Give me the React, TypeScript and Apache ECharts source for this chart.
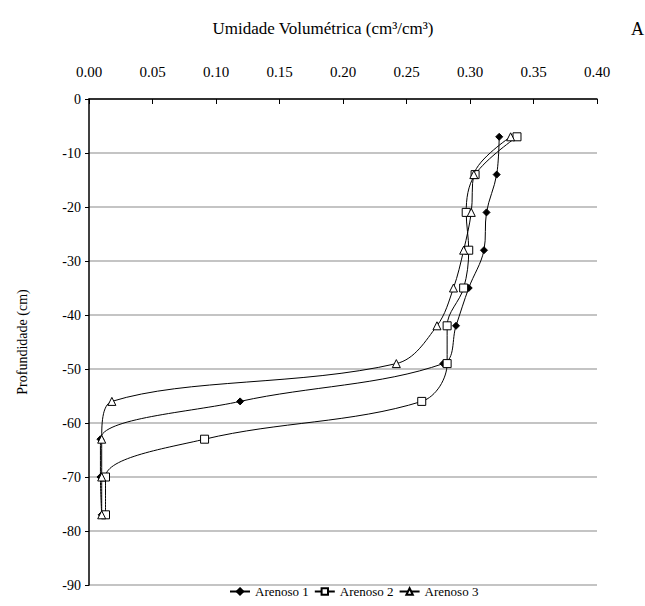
import React, { useEffect, useRef } from "react";
import * as echarts from "echarts";

const depths = [-7, -14, -21, -28, -35, -42, -49, -56, -63, -70, -77];
const arenoso1 = [0.323, 0.321, 0.313, 0.311, 0.299, 0.289, 0.279, 0.119, 0.009, 0.009, 0.010];
const arenoso2 = [0.337, 0.304, 0.297, 0.299, 0.295, 0.282, 0.282, 0.262, 0.091, 0.013, 0.013];
const arenoso3 = [0.332, 0.303, 0.301, 0.295, 0.287, 0.274, 0.242, 0.018, 0.010, 0.010, 0.010];
const seriesNames = ["Arenoso 1", "Arenoso 2", "Arenoso 3"];
const xTicks = { min: 0, max: 0.4, interval: 0.05 };
const yTicks = { min: -90, max: 0, interval: 10 };

const FONT = "'Liberation Serif', 'Times New Roman', serif";

function pairs(xs: number[]) {
  return xs.map((v, i) => [v, depths[i]]);
}

export default function App() {
  const ref = useRef<HTMLDivElement>(null);
  useEffect(() => {
    document.body.style.margin = "0";
    if (!ref.current) return;
    const chart = echarts.init(ref.current, undefined, { renderer: "svg" });
    const lineStyle = { color: "#000", width: 1 };
    chart.setOption({
      animation: false,
      backgroundColor: "#fff",
      textStyle: { fontFamily: FONT, color: "#000" },
      grid: { left: 89, right: 48, top: 99, bottom: 21, containLabel: false },
      graphic: [
        {
          type: "text",
          left: 631,
          top: 20,
          style: { text: "A", fontFamily: FONT, fontSize: 18, fill: "#000" },
        },
      ],
      legend: {
        bottom: 3,
        left: 224,
        itemGap: 5,
        itemWidth: 20,
        itemHeight: 8,
        textStyle: { fontFamily: FONT, fontSize: 13, color: "#000" },
        data: seriesNames,
      },
      xAxis: {
        type: "value",
        position: "top",
        min: xTicks.min,
        max: xTicks.max,
        interval: xTicks.interval,
        name: "Umidade Volumétrica (cm³/cm³)",
        nameLocation: "middle",
        nameGap: 62,
        nameTextStyle: { fontFamily: FONT, fontSize: 17, color: "#000", padding: [0, 40, 0, 0] },
        axisLine: { show: true, onZero: false, lineStyle: { color: "#000", width: 1.5 } },
        axisTick: { show: true, inside: true, length: 5, lineStyle: { color: "#000" } },
        axisLabel: {
          margin: 20,
          fontFamily: FONT,
          fontSize: 15,
          color: "#000",
          formatter: (v: number) => v.toFixed(2),
        },
        splitLine: { show: false },
      },
      yAxis: {
        type: "value",
        min: yTicks.min,
        max: yTicks.max,
        interval: yTicks.interval,
        name: "Profundidade (cm)",
        nameLocation: "middle",
        nameRotate: 90,
        nameGap: 60,
        nameTextStyle: { fontFamily: FONT, fontSize: 14, color: "#000" },
        axisLine: { show: true, onZero: false, lineStyle: { color: "#000", width: 1.5 } },
        axisTick: { show: true, inside: false, length: 4, lineStyle: { color: "#000" } },
        axisLabel: { margin: 8, fontFamily: FONT, fontSize: 14, color: "#000" },
        splitLine: { show: true, lineStyle: { color: "#c4c4c4", width: 2 } },
      },
      series: [
        {
          name: seriesNames[0],
          type: "line",
          data: pairs(arenoso1),
          smooth: 0.35,
          symbol: "diamond",
          symbolSize: 7,
          lineStyle,
          itemStyle: { color: "#000", borderColor: "#000", borderWidth: 1 },
          z: 3,
        },
        {
          name: seriesNames[1],
          type: "line",
          data: pairs(arenoso2),
          smooth: 0.35,
          symbol: "rect",
          symbolSize: 8,
          lineStyle,
          itemStyle: { color: "#fff", borderColor: "#000", borderWidth: 1 },
          z: 4,
        },
        {
          name: seriesNames[2],
          type: "line",
          data: pairs(arenoso3),
          smooth: 0.35,
          symbol: "triangle",
          symbolSize: 8,
          lineStyle,
          itemStyle: { color: "#fff", borderColor: "#000", borderWidth: 1 },
          z: 5,
        },
      ],
    });
    return () => chart.dispose();
  }, []);
  return <div ref={ref} style={{ width: 645, height: 606 }} />;
}
